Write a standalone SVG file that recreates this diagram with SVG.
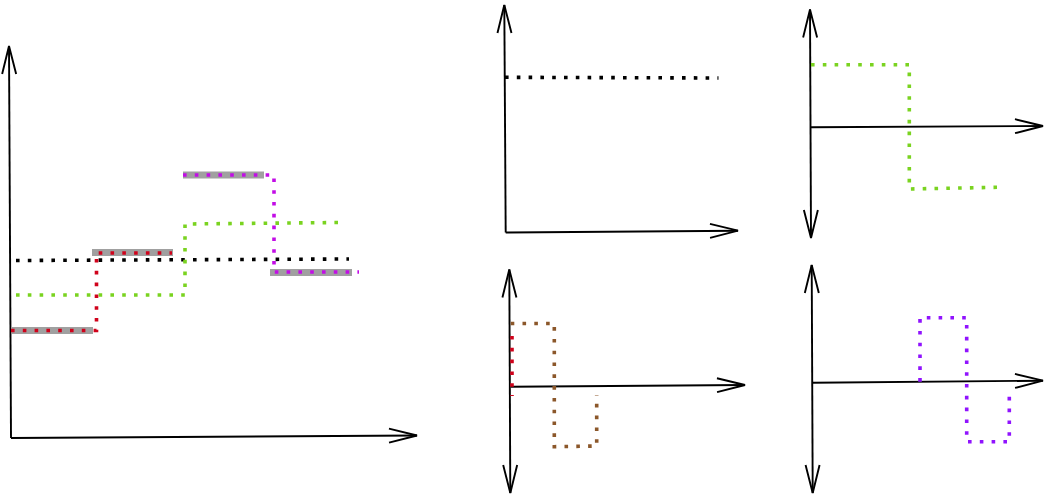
<svg xmlns="http://www.w3.org/2000/svg" width="1044" height="495" viewBox="0 0 1044 495">
<style>
.axis{fill:none;stroke:#000;stroke-width:1.9}
.dot{fill:none;stroke-width:3.6;stroke-dasharray:3.6 8.2}
.hl{fill:none;stroke:#a0a0a0;stroke-width:7}
.blk{stroke:#000}
.grn{stroke:#7ad320}
.red{stroke:#d0021b}
.mag{stroke:#c20de6}
.brn{stroke:#8b572a}
.pur{stroke:#9013fe}
</style>
<defs>
<marker id="ah" markerUnits="userSpaceOnUse" orient="auto-start-reverse" markerWidth="40" markerHeight="20" refX="0" refY="0" overflow="visible">
<path d="M-28,-7 L0,0 L-28,7" fill="none" stroke="#000" stroke-width="1.9"/>
</marker>
</defs>
<rect width="1044" height="495" fill="#fff"/>
<g id="plot-main">
<g id="main-axes">
<path class="axis" d="M11,438 L9,46" marker-end="url(#ah)"/>
<path class="axis" d="M11,438 L417,435.5" marker-end="url(#ah)"/>
</g>
<g id="main-highlights">
<path class="hl" d="M12,330.5 H93"/>
<path class="hl" d="M92,252.5 H173"/>
<path class="hl" d="M183,175 H264"/>
<path class="hl" d="M270,272.5 H352"/>
</g>
<g id="main-signals">
<path class="dot blk" d="M16,260.5 L349,259"/>
<path class="dot grn" d="M16,295 H185 V224 L341,222.5"/>
<path class="dot red" d="M11,330.5 H96.5 V253 H172"/>
<path class="dot mag" d="M183,175 H274 V272 H359"/>
</g>
</g>
<g id="plot-top-middle">
<path class="axis" d="M505.7,232.5 L504.3,5" marker-end="url(#ah)"/>
<path class="axis" d="M505.7,232.5 L738,230.7" marker-end="url(#ah)"/>
<path class="dot blk" d="M505,77.3 L718.5,78"/>
</g>
<g id="plot-top-right">
<path class="axis" d="M811,238 L810,9.5" marker-start="url(#ah)" marker-end="url(#ah)"/>
<path class="axis" d="M811,127.3 L1043,126" marker-end="url(#ah)"/>
<path class="dot grn" d="M811,64.7 H909.3 V189 L997,187.3"/>
</g>
<g id="plot-bottom-middle">
<path class="axis" d="M510.3,493 L509.3,269.5" marker-start="url(#ah)" marker-end="url(#ah)"/>
<path class="axis" d="M510.7,386.7 L745,385" marker-end="url(#ah)"/>
<path class="dot brn" d="M510.7,323.5 H554.3 V446.7 L596.7,446 V395"/>
<path class="dot red" d="M512,336 V396"/>
</g>
<g id="plot-bottom-right">
<path class="axis" d="M812.7,493 L811.7,265" marker-start="url(#ah)" marker-end="url(#ah)"/>
<path class="axis" d="M812.7,382.7 L1043,380.7" marker-end="url(#ah)"/>
<path class="dot pur" d="M920,381.7 V317.7 H966.7 V441.7 H1009.3 V389"/>
</g>
</svg>
